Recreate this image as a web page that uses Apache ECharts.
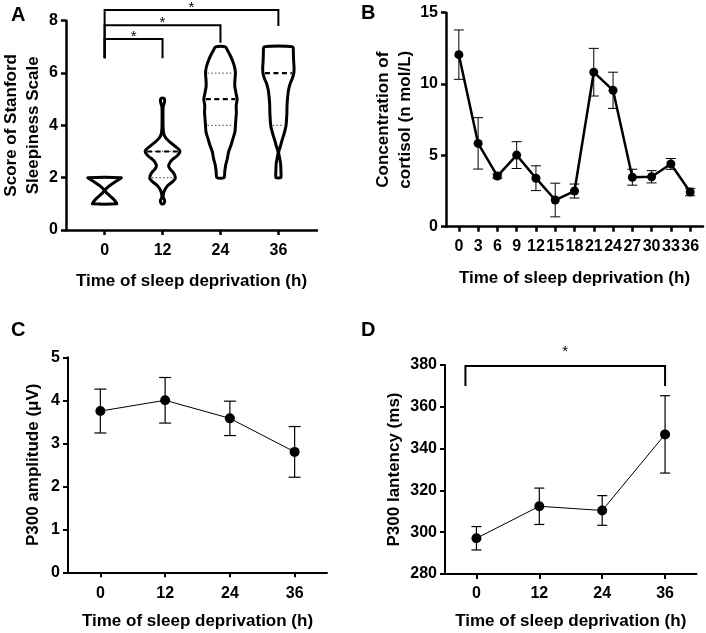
<!DOCTYPE html>
<html><head><meta charset="utf-8">
<script src="https://cdn.jsdelivr.net/npm/echarts@6/dist/echarts.min.js"></script>
<style>html,body{margin:0;padding:0;background:#fff}#c{width:706px;height:633px}</style>
</head><body><div id="c"></div>
<script>
var FONT = "'Liberation Sans', Arial, Helvetica, sans-serif";

// ---------- Panel A : Stanford Sleepiness Scale (violins) ----------
var hoursA = [0, 12, 24, 36];
// violin outlines: [score, half-width in hours-axis units], top to bottom
var violin0 = [[2.0,3.45],[1.95,3.1],[1.85,2.28],[1.75,1.45],[1.65,0.72],[1.55,0.2],[1.5,0.17],[1.45,0.25],[1.35,0.83],[1.25,1.45],[1.15,2.0],[1.05,2.4],[1.0,2.5]];
var violin12 = [[5.03,0.3],[4.95,0.45],[4.85,0.35],[4.7,0.12],[4.3,0.1],[3.9,0.12],[3.65,0.3],[3.5,0.75],[3.35,1.6],[3.2,2.6],[3.08,3.4],[3.0,3.6],[2.92,3.4],[2.8,2.8],[2.7,2.1],[2.6,1.6],[2.45,1.25],[2.35,1.5],[2.2,2.2],[2.05,2.6],[1.95,2.6],[1.85,2.1],[1.7,1.1],[1.55,0.5],[1.4,0.2],[1.25,0.15],[1.12,0.45],[1.03,0.35],[1.0,0.2]];
var violin24 = [[7.0,1.0],[6.85,1.5],[6.7,1.95],[6.5,2.44],[6.25,2.9],[6.0,3.1],[5.75,3.0],[5.5,2.96],[5.25,3.2],[5.0,3.45],[4.75,3.25],[4.5,3.3],[4.25,3.2],[4.0,3.1],[3.75,3.0],[3.5,2.6],[3.25,2.2],[3.0,1.7],[2.75,1.45],[2.5,1.1],[2.25,0.9],[2.0,0.72]];
var violin36 = [[7.0,2.96],[6.8,3.1],[6.5,3.15],[6.2,3.25],[6.0,3.2],[5.8,2.9],[5.6,2.45],[5.35,2.1],[5.1,1.93],[4.8,1.8],[4.46,1.76],[4.0,1.59],[3.8,1.35],[3.57,1.0],[3.4,0.7],[3.19,0.4],[3.05,0.15],[2.95,0.06],[2.8,0.2],[2.55,0.45],[2.3,0.52],[2.1,0.55],[2.0,0.5]];
var violinsA = [violin0, violin12, violin24, violin36];
var medianA = [1.5, 3, 5, 6];
var q1A = [1, 2, 4, 4];
var q3A = [2, 3, 6, 7];
var sigPairsA = [[0, 12], [0, 24], [0, 36]];
var sigTopA = [7.30, 7.83, 8.41];
var sigLeftEndA = [6.56, 6.56, 6.56];
var sigRightEndA = [6.56, 7.16, 7.80];
var sigStarYA = [7.38, 7.91, 8.49];

// ---------- Panel B : cortisol ----------
var hoursB = [0, 3, 6, 9, 12, 15, 18, 21, 24, 27, 30, 33, 36];
var meanB = [12.06, 5.84, 3.55, 5.02, 3.40, 1.87, 2.50, 10.83, 9.56, 3.47, 3.50, 4.40, 2.43];
var semB  = [1.73, 1.80, 0.15, 0.94, 0.87, 1.18, 0.49, 1.67, 1.27, 0.56, 0.43, 0.38, 0.26];

// ---------- Panel C : P300 amplitude ----------
var hoursC = [0, 12, 24, 36];
var meanC = [3.75, 4.00, 3.58, 2.80];
var semC  = [0.51, 0.53, 0.40, 0.59];

// ---------- Panel D : P300 latency ----------
var hoursD = [0, 12, 24, 36];
var meanD = [297.1, 312.4, 310.4, 346.8];
var semD  = [5.6, 8.7, 7.1, 18.5];
var sigPairsD = [[-2.1, 36]];
var sigTopD = [379.5];
var sigLeftEndD = [370];
var sigRightEndD = [370];
var sigStarYD = [386.5];

var xTitle = 'Time of sleep deprivation (h)';

function xAxisOf(gi, min, max, ticks, margin, nameGap, lw) {
  return {
    gridIndex: gi, type: 'value', min: min, max: max,
    axisLine: { show: true, onZero: false, lineStyle: { color: '#000', width: lw } },
    axisTick: { show: true, customValues: ticks, length: 5, lineStyle: { color: '#000', width: lw } },
    axisLabel: { customValues: ticks, margin: margin, color: '#000', fontSize: 16, fontWeight: 'bold', fontFamily: FONT, hideOverlap: false },
    splitLine: { show: false },
    name: xTitle, nameLocation: 'middle', nameGap: nameGap,
    nameTextStyle: { color: '#000', fontSize: 17, fontWeight: 'bold', fontFamily: FONT }
  };
}
function yAxisOf(gi, min, max, interval, name, nameGap, lw) {
  return {
    gridIndex: gi, type: 'value', min: min, max: max, interval: interval,
    axisLine: { show: true, onZero: false, lineStyle: { color: '#000', width: lw } },
    axisTick: { show: true, length: 5, lineStyle: { color: '#000', width: lw } },
    axisLabel: { margin: 8, color: '#000', fontSize: 16, fontWeight: 'bold', fontFamily: FONT },
    splitLine: { show: false },
    name: name, nameLocation: 'middle', nameGap: nameGap, nameRotate: 90,
    nameTextStyle: { color: '#000', fontSize: 17, fontWeight: 'bold', fontFamily: FONT, lineHeight: 22, align: 'center' }
  };
}

function hwAt(prof, v) {
  for (var k = 0; k < prof.length - 1; k++) {
    var a = prof[k], b = prof[k + 1];
    if (v <= a[0] && v >= b[0]) {
      var t = (a[0] - v) / (a[0] - b[0] || 1);
      return a[1] + (b[1] - a[1]) * t;
    }
  }
  return 0;
}

function violinSeries() {
  return {
    type: 'custom', xAxisIndex: 0, yAxisIndex: 0, silent: true, z: 3,
    data: hoursA.map(function (h, i) { return [h, medianA[i], q1A[i], q3A[i]]; }),
    encode: { x: 0, y: [1, 2, 3] },
    renderItem: function (params, api) {
      var i = params.dataIndex, x = api.value(0), prof = violinsA[i];
      var right = [], left = [];
      prof.forEach(function (p) {
        right.push(api.coord([x + p[1], p[0]]));
        left.push(api.coord([x - p[1], p[0]]));
      });
      var pts = right.concat(left.reverse());
      var children = [];
      function levelLine(v, dashed) {
        var hw = hwAt(prof, v);
        var l = api.coord([x - hw, v]), r = api.coord([x + hw, v]);
        var inset = 2;
        if (r[0] - l[0] <= 2 * inset + 1) return;
        children.push({
          type: 'line',
          shape: { x1: l[0] + inset, y1: l[1], x2: r[0] - inset, y2: r[1] },
          style: dashed ? { stroke: '#000', lineWidth: 2.2, lineDash: [5, 3.5] }
                        : { stroke: '#666', lineWidth: 1.2, lineDash: [1.5, 2.2] }
        });
      }
      levelLine(api.value(2), false);
      levelLine(api.value(3), false);
      levelLine(api.value(1), true);
      children.push({
        type: 'polygon', shape: { points: pts, smooth: 0.25 },
        style: { fill: 'none', stroke: '#000', lineWidth: 3, lineJoin: 'round' }
      });
      return { type: 'group', children: children };
    }
  };
}

function bracketSeries(ai, pairs, tops, lefts, rights, stars, lw, fs) {
  return {
    type: 'custom', xAxisIndex: ai, yAxisIndex: ai, silent: true, z: 4, clip: false,
    data: pairs.map(function (p, i) { return [p[0], p[1], tops[i], lefts[i], rights[i], stars[i]]; }),
    encode: { x: [0, 1], y: [2, 3, 4, 5] },
    renderItem: function (params, api) {
      var x1 = api.value(0), x2 = api.value(1), t = api.value(2);
      var a = api.coord([x1, api.value(3)]), b = api.coord([x1, t]);
      var c = api.coord([x2, t]), d = api.coord([x2, api.value(4)]);
      var s = api.coord([(x1 + x2) / 2, api.value(5)]);
      return { type: 'group', children: [
        { type: 'polyline', shape: { points: [a, b, c, d] }, style: { stroke: '#000', lineWidth: lw, fill: 'none' } },
        { type: 'text', x: s[0], y: s[1], style: { text: '*', fontSize: fs, fontFamily: FONT, fill: '#000', align: 'center', verticalAlign: 'middle' } }
      ] };
    }
  };
}

function errorSeries(ai, hours, mean, sem, capHalf, lw) {
  return {
    type: 'custom', xAxisIndex: ai, yAxisIndex: ai, silent: true, z: 1,
    data: hours.map(function (h, i) { return [h, mean[i] - sem[i], mean[i] + sem[i]]; }),
    encode: { x: 0, y: [1, 2] },
    renderItem: function (params, api) {
      var x = api.value(0);
      var lo = api.coord([x, api.value(1)]), hi = api.coord([x, api.value(2)]);
      function st() { return { stroke: '#000', lineWidth: lw }; }
      return { type: 'group', children: [
        { type: 'line', shape: { x1: hi[0], y1: hi[1], x2: lo[0], y2: lo[1] }, style: st() },
        { type: 'line', shape: { x1: hi[0] - capHalf, y1: hi[1], x2: hi[0] + capHalf, y2: hi[1] }, style: st() },
        { type: 'line', shape: { x1: lo[0] - capHalf, y1: lo[1], x2: lo[0] + capHalf, y2: lo[1] }, style: st() }
      ] };
    }
  };
}

function lineSeries(ai, hours, mean, lw, size) {
  return {
    type: 'line', xAxisIndex: ai, yAxisIndex: ai, z: 2, silent: true,
    data: hours.map(function (h, i) { return [h, mean[i]]; }),
    symbol: 'circle', symbolSize: size, showSymbol: true,
    itemStyle: { color: '#000', borderWidth: 0 },
    lineStyle: { color: '#000', width: lw },
    emphasis: { disabled: true }
  };
}

var chart = echarts.init(document.getElementById('c'), null, { renderer: 'canvas' });
chart.setOption({
  animation: false,
  backgroundColor: '#fff',
  textStyle: { fontFamily: FONT },
  graphic: [
    { type: 'text', left: 11, top: 5, style: { text: 'A', fontSize: 20, fontWeight: 'bold', fontFamily: FONT, fill: '#000' } },
    { type: 'text', left: 361, top: 3, style: { text: 'B', fontSize: 20, fontWeight: 'bold', fontFamily: FONT, fill: '#000' } },
    { type: 'text', left: 11, top: 320, style: { text: 'C', fontSize: 20, fontWeight: 'bold', fontFamily: FONT, fill: '#000' } },
    { type: 'text', left: 361, top: 320, style: { text: 'D', fontSize: 20, fontWeight: 'bold', fontFamily: FONT, fill: '#000' } }
  ],
  grid: [
    { left: 66, top: 20.7, width: 251, height: 209.3, containLabel: false, outerBoundsMode: 'none' },
    { left: 446, top: 12.7, width: 257, height: 214, containLabel: false, outerBoundsMode: 'none' },
    { left: 68, top: 357.3, width: 259, height: 215, containLabel: false, outerBoundsMode: 'none' },
    { left: 445, top: 365, width: 251.5, height: 209, containLabel: false, outerBoundsMode: 'none' }
  ],
  xAxis: [
    xAxisOf(0, -8, 44, hoursA, 13, 43, 2.5),
    xAxisOf(1, -2, 38, hoursB, 12, 43, 2.5),
    xAxisOf(2, -6, 42, hoursC, 13, 41, 2),
    xAxisOf(3, -6, 42, hoursD, 12, 39, 2)
  ],
  yAxis: [
    yAxisOf(0, 0, 8, 2, 'Score of Stanford\nSleepiness Scale', 22, 2.5),
    yAxisOf(1, 0, 15, 5, 'Concentration of\ncortisol (n mol/L)', 29, 2.5),
    yAxisOf(2, 0, 5, 1, 'P300 amplitude (μV)', 24, 2),
    yAxisOf(3, 280, 380, 20, 'P300 lantency (ms)', 40, 2)
  ],
  series: [
    violinSeries(),
    bracketSeries(0, sigPairsA, sigTopA, sigLeftEndA, sigRightEndA, sigStarYA, 2, 15),
    errorSeries(1, hoursB, meanB, semB, 5, 1),
    lineSeries(1, hoursB, meanB, 2.5, 9),
    errorSeries(2, hoursC, meanC, semC, 6, 1.2),
    lineSeries(2, hoursC, meanC, 1, 10),
    errorSeries(3, hoursD, meanD, semD, 5, 1.2),
    lineSeries(3, hoursD, meanD, 1, 10),
    bracketSeries(3, sigPairsD, sigTopD, sigLeftEndD, sigRightEndD, sigStarYD, 2, 15)
  ]
});
</script>
</body></html>
